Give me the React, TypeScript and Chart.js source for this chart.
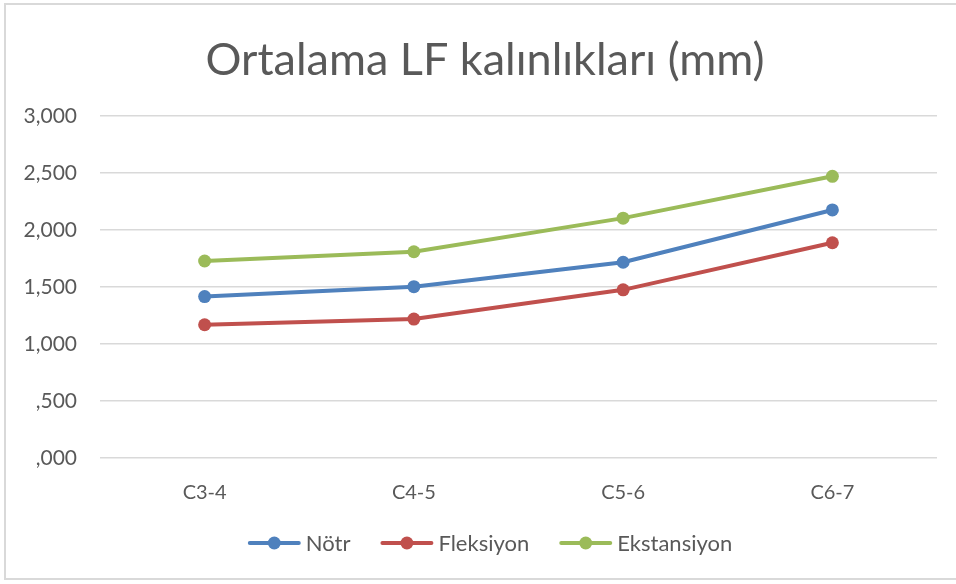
import React, { useEffect, useRef } from "react";
import { Chart, registerables } from "chart.js";

Chart.register(...registerables);

const categories = ["C3-4", "C4-5", "C5-6", "C6-7"];
const notr = [1.416, 1.503, 1.717, 2.176];
const fleksiyon = [1.169, 1.219, 1.475, 1.888];
const ekstansiyon = [1.728, 1.809, 2.104, 2.471];
const seriesNames = ["Nötr", "Fleksiyon", "Ekstansiyon"];
const seriesColors = ["#4F81BD", "#C0504D", "#9BBB59"];
const titleText = "Ortalama LF kalınlıkları (mm)";
const FONT = "Lato, 'Open Sans', sans-serif";
const TEXT_COLOR = "#595959";

function fmt(v: number): string {
  const s = v.toFixed(3).replace(".", ",");
  return s.startsWith("0") ? s.slice(1) : s;
}

// Draws title and legend (line + marker + label) in Excel style
const titleLegendPlugin = {
  id: "titleLegend",
  afterDraw(chart: any) {
    const ctx = chart.ctx as CanvasRenderingContext2D;
    ctx.save();
    // title
    ctx.fillStyle = TEXT_COLOR;
    ctx.font = `45px ${FONT}`;
    ctx.textAlign = "center";
    ctx.textBaseline = "middle";
    ctx.fillText(titleText, 485, 60);

    // legend
    ctx.font = `22px ${FONT}`;
    ctx.textAlign = "left";
    const iconW = 53;
    const gapIcon = 5;
    const gapItem = 30;
    const widths = seriesNames.map((n) => ctx.measureText(n).width);
    const total =
      widths.reduce((a, b) => a + b, 0) +
      seriesNames.length * (iconW + gapIcon) +
      (seriesNames.length - 1) * gapItem;
    let x = 489 - total / 2 + 1;
    const y = 543;
    seriesNames.forEach((name, i) => {
      const ds = chart.data.datasets[i];
      const col = ds.borderColor as string;
      ctx.strokeStyle = col;
      ctx.lineWidth = 4;
      ctx.lineCap = "round";
      ctx.beginPath();
      ctx.moveTo(x + 2, y);
      ctx.lineTo(x + iconW - 2, y);
      ctx.stroke();
      ctx.fillStyle = col;
      ctx.beginPath();
      ctx.arc(x + iconW / 2, y, 6.5, 0, Math.PI * 2);
      ctx.fill();
      ctx.fillStyle = TEXT_COLOR;
      ctx.fillText(ds.label, x + iconW + gapIcon, y + 1);
      x += iconW + gapIcon + widths[i] + gapItem;
    });
    ctx.restore();
  },
};

export default function App() {
  const ref = useRef<HTMLCanvasElement>(null);
  useEffect(() => {
    const data = [notr, fleksiyon, ekstansiyon];
    const chart = new Chart(ref.current!, {
      type: "line",
      data: {
        labels: categories,
        datasets: data.map((d, i) => ({
          label: seriesNames[i],
          data: d,
          borderColor: seriesColors[i],
          backgroundColor: seriesColors[i],
          borderWidth: 4,
          pointRadius: 6.5,
          pointBorderWidth: 0,
          pointBackgroundColor: seriesColors[i],
          tension: 0,
          fill: false,
        })),
      },
      plugins: [titleLegendPlugin],
      options: {
        animation: false,
        responsive: false,
        maintainAspectRatio: false,
        layout: { padding: { top: 116, left: 0, right: 19, bottom: 64 } },
        plugins: {
          title: { display: false },
          legend: { display: false },
          tooltip: { enabled: false },
        },
        scales: {
          x: {
            offset: true,
            grid: { display: false },
            border: { display: false },
            ticks: {
              color: TEXT_COLOR,
              font: { family: FONT, size: 20 },
              padding: 15,
            },
          },
          y: {
            min: 0,
            max: 3,
            grid: { color: "#D9D9D9", lineWidth: 1.5, drawTicks: false },
            border: { display: false },
            afterFit: (s: any) => {
              s.width = 100;
            },
            ticks: {
              stepSize: 0.5,
              color: TEXT_COLOR,
              font: { family: FONT, size: 21 },
              padding: 23,
              callback: (v: any) => fmt(Number(v)),
            },
          },
        },
      },
    });
    return () => chart.destroy();
  }, []);
  return (
    <div
      style={{
        position: "absolute",
        left: 0,
        top: 0,
        width: 956,
        height: 584,
        background: "#fff",
      }}
    >
      <div
        style={{
          position: "absolute",
          left: 4,
          top: 3,
          width: 960,
          height: 577,
          border: "2px solid #D9D9D9",
          borderRight: "none",
          boxSizing: "border-box",
        }}
      />
      <canvas
        ref={ref}
        width={956}
        height={584}
        style={{ position: "absolute", left: 0, top: 0 }}
      />
    </div>
  );
}
